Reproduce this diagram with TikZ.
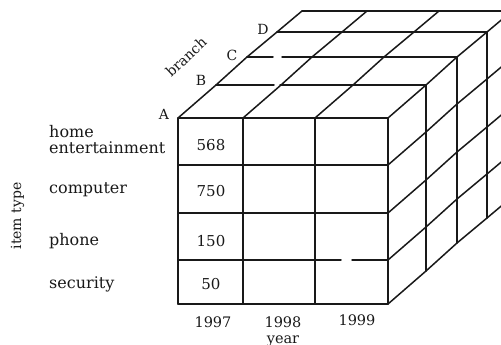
\documentclass[tikz,border=0pt]{standalone}
\usepackage{fontspec}
\setmainfont{DejaVu Serif}
\begin{document}
\begin{tikzpicture}[x=1pt,y=-1pt,
  grid/.style={line width=1.5pt, line cap=round, line join=round, black!90},
  lbl/.style={font=\fontsize{16}{17}\selectfont, inner sep=0pt, anchor=base west, text=black!90},
  num/.style={font=\fontsize{15}{16}\selectfont, inner sep=0pt, anchor=base, text=black!90},
  yr/.style={font=\fontsize{14.5}{16}\selectfont, inner sep=0pt, anchor=base, text=black!90},
  lett/.style={font=\fontsize{14}{15}\selectfont, inner sep=0pt, text=black!90}]
\useasboundingbox (0,0) rectangle (501,345);
\begin{scope}
\clip (0,0) rectangle (501,345);
% top face: horizontal lines at each slice level
\draw[grid] (178,118) -- (388,118);
\draw[grid] (216,85) -- (274,85);
\draw[grid] (280,85) -- (426,85);
\draw[grid] (247,57) -- (273,57);
\draw[grid] (282,57) -- (457,57);
\draw[grid] (277,32) -- (487,32);
\draw[grid] (302,11) -- (512,11);
% top face: receding lines from each column
\foreach \x in {178,243,315,388}
  \draw[grid] (\x,118) -- (\x+38,85) -- (\x+69,57) -- (\x+99,32) -- (\x+124,11);
% right face: receding lines from each row
\foreach \y in {165,213,260,304}
  \draw[grid] (388,\y) -- (426,\y-33) -- (457,\y-61) -- (487,\y-86) -- (512,\y-107);
% right face: vertical lines at each slice
\foreach \dx/\dy in {38/-33,69/-61,99/-86,124/-107}
  \draw[grid] (388+\dx,118+\dy) -- (388+\dx,304+\dy);
% front face
\foreach \x in {178,243,315,388}
  \draw[grid] (\x,118) -- (\x,304);
\foreach \y in {165,213,304}
  \draw[grid] (178,\y) -- (388,\y);
\draw[grid] (178,260) -- (341,260);
\draw[grid] (352,260) -- (388,260);
\end{scope}
% branch labels
\node[lett] (la) at (164,114) {A};
\node[lett] (lb) at (201,80) {B};
\node[lett] (lc) at (232,55) {C};
\node[lett] (ld) at (263,29) {D};
\node[lett, rotate=43, font=\fontsize{14}{15}\selectfont] (br) at (186,57) {branch};
% item types
\node[lbl] (home) at (49,137) {home};
\node[lbl] (ent) at (49,153) {entertainment};
\node[lbl] (comp) at (49,193) {computer};
\node[lbl] (phone) at (49,245) {phone};
\node[lbl] (sec) at (49,288) {security};
\node[font=\fontsize{14}{15}\selectfont, inner sep=0pt, anchor=base, rotate=90, text=black!90] (it) at (21,216) {item type};
% values
\node[num] (v1) at (211,150) {568};
\node[num] (v2) at (211,196) {750};
\node[num] (v3) at (211,246) {150};
\node[num] (v4) at (211,289) {50};
% years
\node[yr] (y1) at (213,327) {1997};
\node[yr] (y2) at (283,327) {1998};
\node[yr] (y3) at (357,325) {1999};
\node[yr] (yl) at (283,343) {year};
\end{tikzpicture}
\end{document}
